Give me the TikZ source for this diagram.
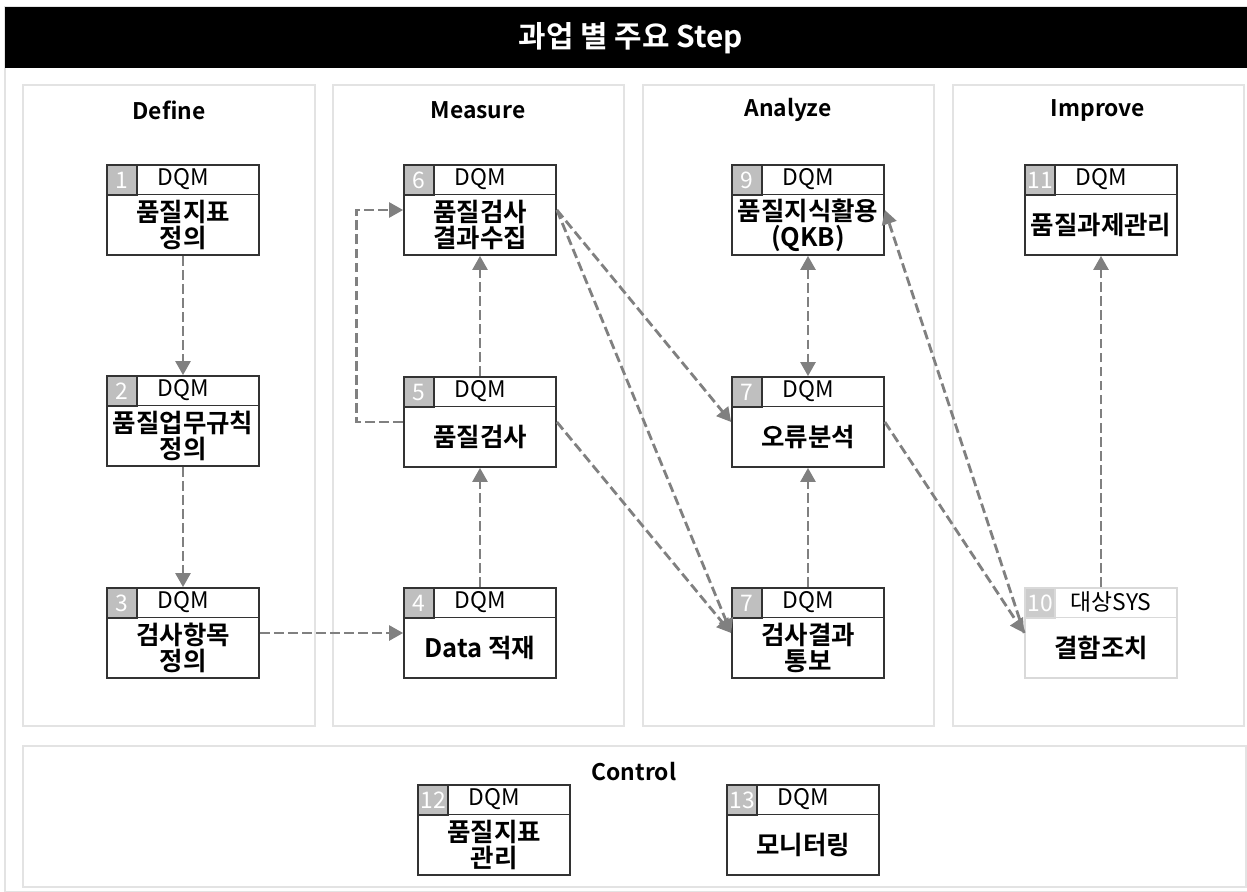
\documentclass[tikz,border=0pt]{standalone}
\usepackage{fontspec}
\setmainfont{Noto Sans CJK KR}[BoldFont={Noto Sans CJK KR Bold}]
\usetikzlibrary{calc}
\usetikzlibrary{arrows.meta}
\usetikzlibrary{positioning}
\usepackage{xcolor}

\definecolor{boxline}{HTML}{333333}
\definecolor{cellgray}{HTML}{BFBFBF}
\definecolor{arrowgray}{HTML}{808080}
\definecolor{panelline}{HTML}{E3E3E3}
\definecolor{lightline}{HTML}{D9D9D9}

\tikzset{
 panel/.style={draw=panelline, fill=white, line width=0.7pt},
 stepbox/.style={draw=boxline, fill=white, line width=1pt, minimum width=3.04cm, minimum height=1.8cm, inner sep=0pt},
 lightbox/.style={stepbox, draw=lightline},
 numcell/.style={draw=boxline, fill=cellgray, line width=1pt, minimum width=0.6cm, minimum height=0.6cm, inner sep=0pt, anchor=north west, text=white, font=\fontsize{13}{13}\selectfont},
 lightcell/.style={numcell, draw=lightline, fill=cellgray!80},
 headtext/.style={font=\fontsize{13}{13}\selectfont, inner sep=0pt},
 bodytext/.style={font=\bfseries\fontsize{14.5}{14.8}\selectfont, align=center, inner sep=0pt},
 coltitle/.style={font=\bfseries\fontsize{13}{13}\selectfont, inner sep=0pt},
 flow/.style={draw=arrowgray, line width=1.6pt, dash pattern=on 5.5pt off 2.5pt, -{Triangle[length=8pt,width=8.5pt]}},
}

\begin{document}
\begin{tikzpicture}[x=0.02cm, y=-0.02cm]
\useasboundingbox (0,0) rectangle (1247,892);
\fill[white] (0,0) rectangle (1247,892);
\draw[panelline, line width=0.7pt] (5,7) rectangle (1250,892);
% title bar
\fill[black] (5,7) rectangle (1250,68);
\node[text=white, font=\bfseries\fontsize{17}{17}\selectfont, inner sep=0pt] (title) at (631,38) {과업 별 주요 Step};

% phase panels
\draw[panel] (23,85) rectangle (315,726);
\draw[panel] (333,85) rectangle (624,726);
\draw[panel] (643,85) rectangle (934,726);
\draw[panel] (953,85) rectangle (1244,726);
\draw[panel] (23,746) rectangle (1246,887);
\node[coltitle] (t-define) at (169,110) {Define};
\node[coltitle] (t-measure) at (478,110) {Measure};
\node[coltitle] (t-analyze) at (788,110) {Analyze};
\node[coltitle] (t-improve) at (1098,110) {Improve};
\node[coltitle] (t-control) at (634,772) {Control};

% DQM steps
\foreach \nm/\cx/\cy/\num/\body in {
  define1/183/210/1/{품질지표\\정의},
  define2/183/421/2/{품질업무규칙\\정의},
  define3/183/633/3/{검사항목\\정의},
  measure6/480/210/6/{품질검사\\결과수집},
  measure5/480/422/5/{품질검사},
  measure4/480/633/4/{Data 적재},
  analyze9/808/210/9/{품질지식활용\\(QKB)},
  analyze7/808/422/7/{오류분석},
  analyze7b/808/633/7/{검사결과\\통보},
  improve11/1101/210/11/{품질과제관리},
  control12/494/830/12/{품질지표\\관리},
  control13/803/830/13/{모니터링}} {
 \node[stepbox] (\nm) at (\cx,\cy) {};
 \draw[boxline, line width=0.7pt] ($(\nm.north west)+(0,30)$) -- ($(\nm.north east)+(0,30)$);
 \node[numcell] (\nm-num) at (\nm.north west) {\num};
 \node[headtext] (\nm-head) at ($(\nm.north)+(0,15)$) {DQM};
 \node[bodytext] (\nm-body) at ($(\nm.center)+(0,15)$) {\body};
}

% target system step
\node[lightbox] (improve10) at (1101,633) {};
\draw[lightline, line width=0.7pt] ($(improve10.north west)+(0,30)$) -- ($(improve10.north east)+(0,30)$);
\node[lightcell] (improve10-num) at (improve10.north west) {10};
\node[headtext] (improve10-head) at ($(improve10.north)+(10,15)$) {대상SYS};
\node[bodytext] (improve10-body) at ($(improve10.center)+(0,15)$) {결함조치};

% flows
\draw[flow] (define1.south) -- (define2.north);
\draw[flow] (define2.south) -- (define3.north);
\draw[flow] (define3.east) -- (measure4.west);
\draw[flow] (measure4.north) -- (measure5.south);
\draw[flow] (measure5.north) -- (measure6.south);
\draw[flow] (measure5.west) -- ++(-47,0) |- (measure6.west);
\draw[flow] (measure6.east) -- (analyze7.west);
\draw[flow] (measure6.east) -- (analyze7b.west);
\draw[flow] (measure5.east) -- (analyze7b.west);
\draw[flow] (analyze7b.north) -- (analyze7.south);
\draw[flow, {Triangle[length=8pt,width=8.5pt]}-{Triangle[length=8pt,width=8.5pt]}] (analyze9.south) -- (analyze7.north);
\draw[flow] (analyze7.east) -- (improve10.west);
\draw[flow] (improve10.west) -- (analyze9.east);
\draw[flow] (improve10.north) -- (improve11.south);
\end{tikzpicture}
\end{document}
